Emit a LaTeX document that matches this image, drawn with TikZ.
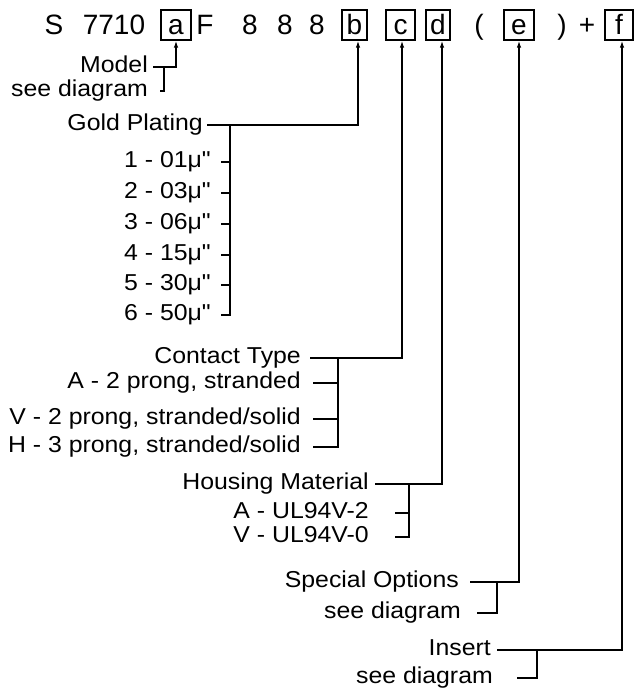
\documentclass[tikz,border=0pt]{standalone}
\usepackage{fontspec}
\usetikzlibrary{arrows.meta}
\newfontfamily\topfam{Liberation Sans}
\newfontfamily\lblfam[FakeStretch=1.08]{Liberation Sans}
\newcommand\topfnt{\topfam\fontsize{28}{32}\selectfont}
\newcommand\lblfnt{\lblfam\fontsize{23}{27}\selectfont}
\tikzset{
  lbl/.style={font=\lblfnt, anchor=base east, inner sep=0pt},
  toptxt/.style={font=\topfnt, anchor=base, inner sep=0pt},
  letterbox/.style={draw, line width=1.3pt, minimum height=30pt, inner sep=0pt,
     text height=20pt, text depth=0pt, font=\topfnt},
  conn/.style={line width=1.3pt},
  arr/.style={conn, -{Latex[length=7pt,width=4.5pt]}}
}
\begin{document}
\begin{tikzpicture}[x=1pt,y=-1pt]
\useasboundingbox (0,0) rectangle (635,690);
% top row
\node[toptxt] (s) at (54,35) {S};
\node[toptxt] (num) at (114,35) {7710};
\node[letterbox, minimum width=30pt] (ba) at (176,25) {a};
\node[toptxt] (ff) at (205,35) {F};
\node[toptxt] (e1) at (250,35) {8};
\node[toptxt] (e2) at (285,35) {8};
\node[toptxt] (e3) at (317,35) {8};
\node[letterbox, minimum width=25pt] (bb) at (354.5,25) {b};
\node[letterbox, minimum width=29pt] (bc) at (400.5,25) {c};
\node[letterbox, minimum width=24pt] (bd) at (438,25) {d};
\node[toptxt] (lp) at (479,35) {(};
\node[letterbox, minimum width=30pt] (be) at (519,25) {e};
\node[toptxt] (rp) at (562,35) {)};
\node[toptxt] (plus) at (587,35) {+};
\node[letterbox, minimum width=28pt] (bf) at (619,25) {f};

% Model
\node[lbl] (model) at (148,72.5) {Model};
\node[lbl] (modelsd) at (148,96.5) {see diagram};
\coordinate (aM) at (176,67);
\coordinate (bM) at (164,67);
\draw[arr] ([xshift=5pt,yshift=5.5pt]model.base east) -- (aM) -- (ba.south);
\draw[conn] ([xshift=12pt,yshift=5.5pt]modelsd.base east) -| (bM);

% Gold plating
\node[lbl] (gp) at (203,130.5) {Gold Plating};
\node[lbl] (g1) at (211,167.5) {1 - 01μ"};
\node[lbl] (g2) at (211,198.5) {2 - 03μ"};
\node[lbl] (g3) at (211,229.5) {3 - 06μ"};
\node[lbl] (g4) at (211,260.5) {4 - 15μ"};
\node[lbl] (g5) at (211,290.5) {5 - 30μ"};
\node[lbl] (g6) at (211,320.5) {6 - 50μ"};
\coordinate (aGP) at (358,125);
\coordinate (bGP) at (230,125);
\draw[arr] ([xshift=4pt,yshift=5.5pt]gp.base east) -- (aGP) -- (aGP |- bb.south);
\foreach \n in {g1,g2,g3,g4,g5,g6}
  \draw[conn] ([xshift=10pt,yshift=5.5pt]\n.base east) -| (bGP);

% Contact type
\node[lbl] (ct) at (301,363.5) {Contact Type};
\node[lbl] (c1) at (301,388.5) {A - 2 prong, stranded};
\node[lbl] (c2) at (301,424.5) {V - 2 prong, stranded/solid};
\node[lbl] (c3) at (301,452.5) {H - 3 prong, stranded/solid};
\coordinate (aCT) at (402,358);
\coordinate (bCT) at (338,358);
\draw[arr] ([xshift=9pt,yshift=5.5pt]ct.base east) -- (aCT) -- (aCT |- bc.south);
\foreach \n in {c1,c2,c3}
  \draw[conn] ([xshift=12pt,yshift=5.5pt]\n.base east) -| (bCT);

% Housing material
\node[lbl] (hm) at (369,489.5) {Housing Material};
\node[lbl] (h1) at (369,518.5) {A - UL94V-2};
\node[lbl] (h2) at (369,542.5) {V - UL94V-0};
\coordinate (aHM) at (442,484);
\coordinate (bHM) at (409,484);
\draw[arr] ([xshift=6pt,yshift=5.5pt]hm.base east) -- (aHM) -- (aHM |- bd.south);
\foreach \n in {h1,h2}
  \draw[conn] ([xshift=26pt,yshift=5.5pt]\n.base east) -| (bHM);

% Special options
\node[lbl] (so) at (459,587.5) {Special Options};
\node[lbl] (sosd) at (461,618.5) {see diagram};
\coordinate (aSO) at (519,582);
\coordinate (bSO) at (497,582);
\draw[arr] ([xshift=11pt,yshift=5.5pt]so.base east) -- (aSO) -- (aSO |- be.south);
\draw[conn] ([xshift=16pt,yshift=5.5pt]sosd.base east) -| (bSO);

% Insert
\node[lbl] (ins) at (491,655.5) {Insert};
\node[lbl] (inssd) at (493,683.5) {see diagram};
\coordinate (aIN) at (622,650);
\coordinate (bIN) at (537,650);
\draw[arr] ([xshift=6pt,yshift=5.5pt]ins.base east) -- (aIN) -- (aIN |- bf.south);
\draw[conn] ([xshift=24pt,yshift=5.5pt]inssd.base east) -| (bIN);
\end{tikzpicture}
\end{document}
